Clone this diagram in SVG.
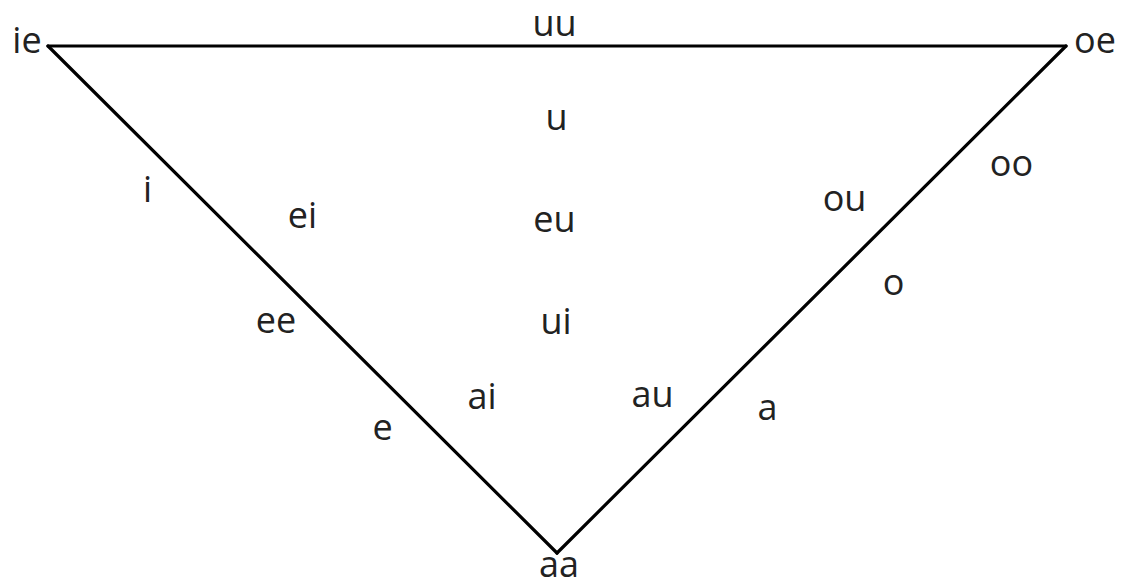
<svg xmlns="http://www.w3.org/2000/svg" width="1123" height="588" viewBox="0 0 1123 588">
<style>
.t{font-family:"Open Sans","Liberation Sans",sans-serif;font-size:36px;fill:#222;text-anchor:middle}
.c{stroke:#000;stroke-width:3.2;fill:none;stroke-linecap:round}
</style>
<rect width="1123" height="588" fill="#fff"/>
<g id="connectors">
<line class="c" x1="48" y1="46" x2="1066" y2="46"/>
<line class="c" x1="48" y1="46" x2="557" y2="553"/>
<line class="c" x1="1066" y1="46" x2="557" y2="553"/>
</g>
<g id="n-ie"><text class="t" x="27" y="53">ie</text></g>
<g id="n-uu"><text class="t" x="554.5" y="36">uu</text></g>
<g id="n-oe"><text class="t" x="1095" y="53">oe</text></g>
<g id="n-u"><text class="t" x="556.5" y="130">u</text></g>
<g id="n-i"><text class="t" x="147.5" y="202">i</text></g>
<g id="n-ei"><text class="t" x="302.5" y="228">ei</text></g>
<g id="n-eu"><text class="t" x="554.5" y="232">eu</text></g>
<g id="n-ui"><text class="t" x="556" y="334">ui</text></g>
<g id="n-ee"><text class="t" x="276" y="333">ee</text></g>
<g id="n-e"><text class="t" x="382.5" y="440">e</text></g>
<g id="n-ai"><text class="t" x="482" y="409">ai</text></g>
<g id="n-au"><text class="t" x="652.5" y="407">au</text></g>
<g id="n-a"><text class="t" x="767.5" y="420">a</text></g>
<g id="n-oo"><text class="t" x="1011.5" y="176">oo</text></g>
<g id="n-ou"><text class="t" x="844.5" y="211">ou</text></g>
<g id="n-o"><text class="t" x="893.5" y="295">o</text></g>
<g id="n-aa"><text class="t" x="559" y="577">aa</text></g>
</svg>
